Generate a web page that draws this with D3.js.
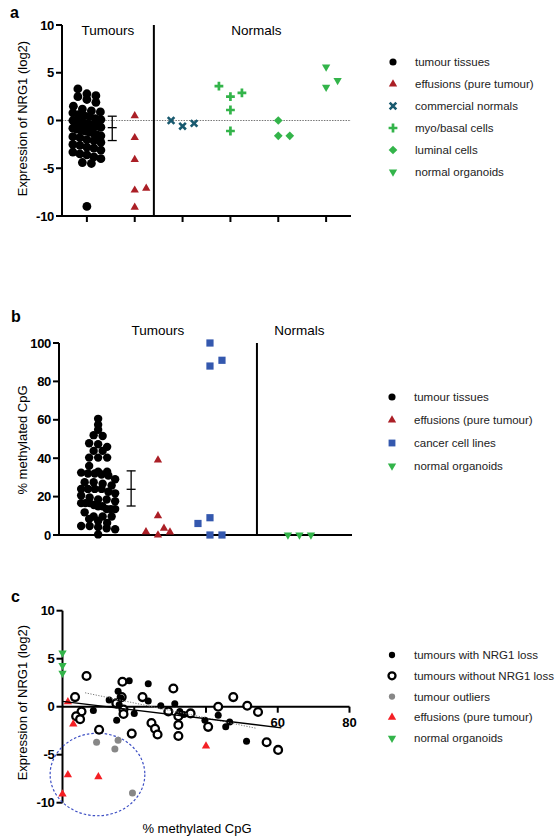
<!DOCTYPE html>
<html><head><meta charset="utf-8">
<script src="https://cdn.jsdelivr.net/npm/d3@7"></script>
<style>body{margin:0;background:#fff} text{font-family:"Liberation Sans",Arial,sans-serif}</style>
</head><body><svg id="chart" width="557" height="840"></svg>
<script>
// ---------------- DATA ----------------
// Panel a: NRG1 expression (log2)
const aCategories = ["tumour tissues","effusions (pure tumour)","commercial normals","myo/basal cells","luminal cells","normal organoids"];
const aTumourTissues = [3.3,2.8,2.6,2.5,2.2,1.9,1.5,1.2,1.0,0.9,0.8,0.6,0.5,0.4,0.2,0.1,0.0,-0.1,-0.2,-0.3,-0.4,-0.5,-0.6,-0.7,-0.8,-0.9,-1.0,-1.1,-1.2,-1.3,-1.5,-1.6,-1.7,-1.8,-2.0,-2.1,-2.3,-2.5,-2.6,-2.8,-2.9,-3.1,-3.3,-3.5,-3.6,-3.8,-4.0,-4.4,-4.5,-9.0];
const aEffusions = [0.5,-1.8,-4.1,-7.3,-9.1,-7.1];
const aCommercial = [-0.6,-0.3,0.0];
const aMyoBasal = [2.5,2.9,3.6,1.1,-1.1];
const aLuminal = [0.0,-1.6,-1.6];
const aOrganoids = [5.6,3.5,4.2];
const aTumourBar = [-2.1,-0.75,0.45];   // lower, median, upper
const aYTicks = [-10,-5,0,5,10];

// Panel b: % methylated CpG
const bCategories = ["tumour tissues","effusions (pure tumour)","cancer cell lines","normal organoids"];
const bColumns = [0,1.07,2,3.6];
const bTumourTissues = [60.5,57.4,54.8,52,51.6,47.8,47.3,45.9,43.8,43.8,40.3,40.3,40.3,36,33,33,32.5,32,32,31.5,31,29,27.5,27.5,26.7,25.8,24,24,24,24,22.5,21.7,20.6,19.5,18.5,18.5,17.6,16.6,16.6,16.6,15.6,15,15,13.5,13.5,13.5,11.8,9.6,9.6,9.6,8.3,7.3,6.3,4.7,4.7,4.1,3.5,3,0.3];
const bEffusions = [39,10,0,3.5,1.5,1.7];
const bCellLines = [100,88,91,0,0,9,6];
const bOrganoids = [0,0,0];
const bTumourBar = [15.1,23.8,33.4];
const bYTicks = [0,20,40,60,80,100];

// Panel c: methylation (x) vs expression (y)
const cLossX = [8.6,13,15.5,18.6,15.1,20,23.9,23.9,27.4,31.3,32.7,33.8,39.7,43.4,45.5,46.6,51.3,16.3,15.8];
const cLossY = [-0.4,0.7,1.6,2.7,-1.4,-0.7,2.4,0.6,0.1,0.3,-0.5,-0.8,-1.4,-0.9,-2.1,-1.6,-3.6,0.9,0.2];
const cNoLossX = [6.7,3.5,5.3,3.8,4.9,10.2,16.7,16.5,15,17,17,19.3,22.3,24.8,25.8,26.5,29.5,30.9,32.3,32.3,32.3,35.7,40.6,43.4,47.6,51.5,54.5,56.9,60.1];
const cNoLossY = [3.2,1.0,-0.5,-1.0,-1.3,-2.4,2.6,1.0,0.35,-0.3,-0.76,-2.8,1.0,-1.7,-2.3,-2.9,-0.5,1.9,-1.0,-1.9,-3.05,-0.7,-2.1,0.0,1.0,0.1,-0.55,-3.7,-4.5];
const cOutlierX = [9.5,15.5,14.6,19.5];
const cOutlierY = [-3.7,-3.5,-4.4,-9.0];
const cEffusionX = [1.5,3,1.5,10,0,40];
const cEffusionY = [0.5,-1.8,-7.1,-7.3,-9.1,-4.1];
const cOrganoidX = [0,0,0];
const cOrganoidY = [5.6,4.3,3.5];
const cFitSolid = [[0,0.55],[61,-2.2]];
const cFitDotted = [[6.3,1.45],[54,-2.25]];
const cOutlierRing = [9.75,-7.06,13.2,4.3]; // cx, cy, rx (x units), ry (y units)
const cXTicks = [20,40,60,80];
const cXTickLabels = ["","","60","80"];
const cYTicks = [-10,-5,0,5,10];

// ---------------- STYLES ----------------
const C = {darkred:"#ab1f26", teal:"#195a6f", green:"#33b44a", blue:"#3458ae", red:"#f41f24", grey:"#878787"};
const svg = d3.select("#chart");

function sym(g, type, x, y, color, s){
  s = s || 1;
  if(type==="circle"){ g.append("circle").attr("cx",x).attr("cy",y).attr("r",4.2*s).attr("fill",color); return; }
  if(type==="dot"){ g.append("circle").attr("cx",x).attr("cy",y).attr("r",3.5*s).attr("fill",color); return; }
  if(type==="ring"){ g.append("circle").attr("cx",x).attr("cy",y).attr("r",3.9*s).attr("fill","#fff").attr("stroke",color).attr("stroke-width",2.3); return; }
  if(type==="tri"){ g.append("path").attr("transform",`translate(${x},${y})`).attr("d",d3.symbol(d3.symbolTriangle,30*s)()).attr("fill",color); return; }
  if(type==="tridown"){ g.append("path").attr("transform",`translate(${x},${y}) rotate(180)`).attr("d",d3.symbol(d3.symbolTriangle,30*s)()).attr("fill",color); return; }
  if(type==="square"){ g.append("path").attr("transform",`translate(${x},${y})`).attr("d",d3.symbol(d3.symbolSquare,52*s)()).attr("fill",color); return; }
  if(type==="diamond"){ g.append("path").attr("transform",`translate(${x},${y}) rotate(45)`).attr("d",d3.symbol(d3.symbolSquare,38*s)()).attr("fill",color); return; }
  if(type==="plus"){ const h=4.4*s; g.append("path").attr("d",`M${x-h},${y}H${x+h}M${x},${y-h}V${y+h}`).attr("stroke",color).attr("stroke-width",2.7).attr("fill","none"); return; }
  if(type==="x"){ const h=3.3*s; g.append("path").attr("d",`M${x-h},${y-h}L${x+h},${y+h}M${x-h},${y+h}L${x+h},${y-h}`).attr("stroke",color).attr("stroke-width",2.6).attr("fill","none"); return; }
}

function dodge(values, yScale, cx, step, minDist){
  const placed=[];
  values.forEach(v=>{
    const y=yScale(v);
    for(let k=0;k<20;k++){
      const m = k===0?0:(k%2===1?(k+1)/2:-(k/2));
      const x=cx+m*step;
      if(placed.every(p=>Math.hypot(p.x-x,p.y-y)>=minDist)){ placed.push({v,x,y}); break; }
    }
  });
  return placed;
}
function cloud(values, yScale, cx, binH, width, spacing){
  const pts=values.map(v=>({v,y:yScale(v)}));
  const bins=d3.groups(pts,p=>Math.floor(p.y/binH));
  bins.forEach(([,arr])=>{
    const n=arr.length;
    const sp = n>1?Math.min(spacing,width/(n-1)):0;
    arr.forEach((p,i)=>{ p.x=cx+(i-(n-1)/2)*sp; });
  });
  return pts;
}
function errBar(g,x,yScale,vals,half){
  const [lo,mid,hi]=vals;
  g.append("line").attr("x1",x).attr("x2",x).attr("y1",yScale(lo)).attr("y2",yScale(hi)).attr("stroke","#000").attr("stroke-width",1.3);
  [lo,mid,hi].forEach(v=>g.append("line").attr("x1",x-half).attr("x2",x+half).attr("y1",yScale(v)).attr("y2",yScale(v)).attr("stroke","#000").attr("stroke-width",1.3));
}
function yAxis(g,scale,x,ticks){
  g.append("line").attr("x1",x).attr("x2",x).attr("y1",scale.range()[1]).attr("y2",scale.range()[0]).attr("stroke","#000").attr("stroke-width",2);
  ticks.forEach(t=>{
    g.append("line").attr("x1",x-6).attr("x2",x).attr("y1",scale(t)).attr("y2",scale(t)).attr("stroke","#000").attr("stroke-width",2);
    g.append("text").attr("x",x-8).attr("y",scale(t)).attr("dy","0.36em").attr("text-anchor","end").attr("font-size",13).attr("font-weight","bold").attr("letter-spacing","-0.3").text(t);
  });
}
function legend(g,x,y0,dy,items){
  items.forEach((it,i)=>{
    sym(g,it.type,x,y0+i*dy,it.color,it.s||1);
    g.append("text").attr("x",x+22).attr("y",y0+i*dy).attr("dy","0.35em").attr("font-size",11.5).attr("fill","#222").text(it.label);
  });
}
function label(g,x,y,t,opt){
  const el=g.append("text").attr("x",x).attr("y",y).text(t);
  Object.entries(opt||{}).forEach(([k,v])=>el.attr(k,v));
  return el;
}

// ---------------- PANEL A ----------------
{
  const g=svg.append("g");
  const y=d3.scaleLinear().domain([-10,10]).range([216,25]);
  const x=d3.scaleLinear().domain([-0.52,5.52]).range([62,351]);
  label(g,10,18,"a",{"font-size":16,"font-weight":"bold"});
  g.append("line").attr("x1",x.range()[0]).attr("x2",x.range()[1]).attr("y1",y(0)).attr("y2",y(0)).attr("stroke","#777").attr("stroke-width",1).attr("stroke-dasharray","1.5,1.2");
  g.append("line").attr("x1",x.range()[0]).attr("x2",x.range()[1]).attr("y1",y(-10)).attr("y2",y(-10)).attr("stroke","#000").attr("stroke-width",2);
  aCategories.forEach((c,i)=>g.append("line").attr("x1",x(i)).attr("x2",x(i)).attr("y1",y(-10)).attr("y2",y(-10)+6).attr("stroke","#000").attr("stroke-width",2));
  g.append("line").attr("x1",x(1.4)).attr("x2",x(1.4)).attr("y1",y(10)).attr("y2",y(-10)).attr("stroke","#000").attr("stroke-width",2);
  yAxis(g,y,x.range()[0],aYTicks);
  label(g,27,y(0)-2,"Expression of NRG1 (log2)",{"font-size":13,"text-anchor":"middle",transform:`rotate(-90,27,${y(0)-2})`});
  label(g,(x.range()[0]+x(1.4))/2,35,"Tumours",{"font-size":13.5,"text-anchor":"middle"});
  label(g,(x(1.4)+x.range()[1])/2+4,35,"Normals",{"font-size":13.5,"text-anchor":"middle"});
  cloud(aTumourTissues,y,x(0),8,28,9).forEach(p=>sym(g,"circle",p.x,p.y,"#000",1.05));
  errBar(g,x(0.53),y,aTumourBar,4.5);
  dodge(aEffusions,y,x(1),11.5,9).forEach(p=>sym(g,"tri",p.x,p.y,C.darkred));
  dodge(aCommercial,y,x(2),11.5,11).forEach(p=>sym(g,"x",p.x,p.y,C.teal));
  dodge(aMyoBasal,y,x(3),11.5,11).forEach(p=>sym(g,"plus",p.x,p.y,C.green));
  dodge(aLuminal,y,x(4),11.5,11).forEach(p=>sym(g,"diamond",p.x,p.y,C.green));
  dodge(aOrganoids,y,x(5),11.5,11).forEach(p=>sym(g,"tridown",p.x,p.y,C.green));
  legend(g,393,62,22,[
    {type:"circle",color:"#000",label:aCategories[0],s:0.85},
    {type:"tri",color:C.darkred,label:aCategories[1]},
    {type:"x",color:C.teal,label:aCategories[2]},
    {type:"plus",color:C.green,label:aCategories[3]},
    {type:"diamond",color:C.green,label:aCategories[4]},
    {type:"tridown",color:C.green,label:aCategories[5]}
  ]);
}

// ---------------- PANEL B ----------------
{
  const g=svg.append("g");
  const y=d3.scaleLinear().domain([0,100]).range([535,343]);
  const x=d3.scaleLinear().domain([-0.7,4.54]).range([59,352]);
  label(g,11,322,"b",{"font-size":16,"font-weight":"bold"});
  g.append("line").attr("x1",x.range()[0]).attr("x2",x.range()[1]).attr("y1",y(0)).attr("y2",y(0)).attr("stroke","#000").attr("stroke-width",2);
  g.append("line").attr("x1",x(2.84)).attr("x2",x(2.84)).attr("y1",y(100)).attr("y2",y(0)).attr("stroke","#000").attr("stroke-width",2);
  yAxis(g,y,x.range()[0],bYTicks);
  label(g,27,y(50)+1,"% methylated CpG",{"font-size":13,"text-anchor":"middle",transform:`rotate(-90,27,${y(50)+1})`});
  label(g,x(1.07),335,"Tumours",{"font-size":13.5,"text-anchor":"middle"});
  label(g,x(3.6),335,"Normals",{"font-size":13.5,"text-anchor":"middle"});
  cloud(bTumourTissues,y,x(bColumns[0]),7.5,34,9).forEach(p=>sym(g,"circle",p.x,p.y,"#000"));
  errBar(g,x(bColumns[0]+0.59),y,bTumourBar,4.5);
  dodge(bEffusions,y,x(bColumns[1]),6,7).forEach(p=>sym(g,"tri",p.x,p.y,C.darkred));
  dodge(bCellLines,y,x(bColumns[2]),12,12).forEach(p=>sym(g,"square",p.x,p.y,C.blue));
  dodge(bOrganoids,y,x(bColumns[3]),11.5,11).forEach(p=>sym(g,"tridown",p.x,p.y,C.green));
  legend(g,392,397,23,[
    {type:"circle",color:"#000",label:bCategories[0],s:0.85},
    {type:"tri",color:C.darkred,label:bCategories[1]},
    {type:"square",color:C.blue,label:bCategories[2],s:0.9},
    {type:"tridown",color:C.green,label:bCategories[3]}
  ]);
}

// ---------------- PANEL C ----------------
{
  const g=svg.append("g");
  const x=d3.scaleLinear().domain([0,80]).range([62.5,349.5]);
  const y=d3.scaleLinear().domain([-10,10]).range([802.7,610.7]);
  label(g,11,602,"c",{"font-size":16,"font-weight":"bold"});
  g.append("line").attr("x1",x(0)).attr("x2",x(80)).attr("y1",y(0)).attr("y2",y(0)).attr("stroke","#000").attr("stroke-width",2);
  cXTicks.forEach((t,i)=>{
    g.append("line").attr("x1",x(t)).attr("x2",x(t)).attr("y1",y(0)).attr("y2",y(0)+6).attr("stroke","#000").attr("stroke-width",2);
    if(cXTickLabels[i]) label(g,x(t),y(0)+20,cXTickLabels[i],{"font-size":13,"font-weight":"bold","text-anchor":"middle"});
  });
  yAxis(g,y,x(0),cYTicks);
  label(g,27,y(0)-4,"Expression of NRG1 (log2)",{"font-size":13,"text-anchor":"middle",transform:`rotate(-90,27,${y(0)-4})`});
  label(g,197,833,"% methylated CpG",{"font-size":13,"text-anchor":"middle"});
  const [ecx,ecy,erx,ery]=cOutlierRing;
  g.append("ellipse").attr("cx",x(ecx)).attr("cy",y(ecy)).attr("rx",x(erx)-x(0)).attr("ry",y(0)-y(ery)).attr("fill","none").attr("stroke","#3d4fc4").attr("stroke-width",1.2).attr("stroke-dasharray","2.5,2");
  cNoLossX.forEach((v,i)=>sym(g,"ring",x(v),y(cNoLossY[i]),"#000"));
  cLossX.forEach((v,i)=>sym(g,"dot",x(v),y(cLossY[i]),"#000"));
  cOutlierX.forEach((v,i)=>sym(g,"dot",x(v),y(cOutlierY[i]),C.grey));
  cEffusionX.forEach((v,i)=>sym(g,"tri",x(v),y(cEffusionY[i]),C.red));
  cOrganoidX.forEach((v,i)=>sym(g,"tridown",x(v),y(cOrganoidY[i]),C.green));
  const line=d3.line().x(d=>x(d[0])).y(d=>y(d[1]));
  g.append("path").attr("d",line(cFitDotted)).attr("fill","none").attr("stroke","#777").attr("stroke-width",1).attr("stroke-dasharray","1.2,1.5");
  g.append("path").attr("d",line(cFitSolid)).attr("fill","none").attr("stroke","#000").attr("stroke-width",1.3);
  legend(g,392,655,20.8,[
    {type:"dot",color:"#000",label:"tumours with NRG1 loss",s:0.9},
    {type:"ring",color:"#000",label:"tumours without NRG1 loss",s:0.9},
    {type:"dot",color:C.grey,label:"tumour outliers",s:0.9},
    {type:"tri",color:C.red,label:"effusions (pure tumour)"},
    {type:"tridown",color:C.green,label:"normal organoids"}
  ]);
}
</script></body></html>
